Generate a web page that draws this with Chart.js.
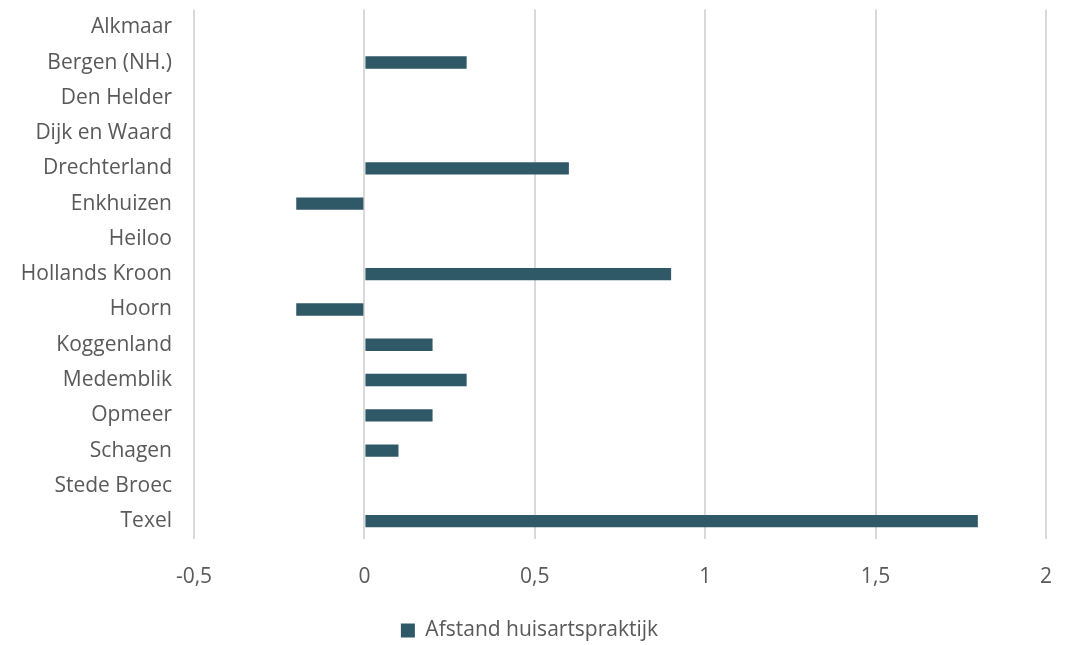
<!DOCTYPE html>
<html>
<head>
<meta charset="utf-8">
<script src="https://cdn.jsdelivr.net/npm/chart.js@4/dist/chart.umd.min.js"></script>
<style>
html,body{margin:0;padding:0;background:#fff;overflow:hidden;}
#wrap{width:1071px;height:645px;position:relative;overflow:hidden;}
#c{position:absolute;left:0;top:-17px;}
</style>
</head>
<body>
<div id="wrap"><canvas id="c" width="1078" height="668"></canvas></div>
<script>
const categories = ["Alkmaar","Bergen (NH.)","Den Helder","Dijk en Waard","Drechterland","Enkhuizen","Heiloo","Hollands Kroon","Hoorn","Koggenland","Medemblik","Opmeer","Schagen","Stede Broec","Texel"];
const afstandValues = [null,0.3,null,null,0.6,-0.2,null,0.9,-0.2,0.2,0.3,0.2,0.1,null,1.8];
const seriesName = "Afstand huisartspraktijk";
const xMin = -0.5, xMax = 2, xStep = 0.5;

const textColor = "#595959";
const font = {family: "'Open Sans', sans-serif", size: 21};

new Chart(document.getElementById('c'), {
  type: 'bar',
  data: {
    labels: categories,
    datasets: [{
      label: seriesName,
      data: afstandValues,
      backgroundColor: '#305968',
      borderWidth: 0,
      barPercentage: 0.7,
      categoryPercentage: 0.5
    }]
  },
  options: {
    indexAxis: 'y',
    responsive: false,
    animation: false,
    devicePixelRatio: 1,
    layout: {padding: {left: 0, right: 19, top: 0, bottom: 0}},
    plugins: {
      legend: {
        position: 'bottom',
        labels: {color: textColor, font: font, boxWidth: 14, boxHeight: 14, padding: 4}
      },
      tooltip: {enabled: false}
    },
    scales: {
      x: {
        min: xMin, max: xMax,
        ticks: {stepSize: xStep, color: textColor, font: font, padding: 26,
          callback: v => String(v).replace('.', ',')},
        grid: {color: '#d9d9d9', lineWidth: 2, drawTicks: false},
        border: {display: false}
      },
      y: {
        ticks: {color: textColor, font: font, padding: 14, autoSkip: false},
        grid: {display: false},
        border: {display: false},
        afterFit: s => { s.width = 194; }
      }
    }
  }
});
</script>
</body>
</html>
